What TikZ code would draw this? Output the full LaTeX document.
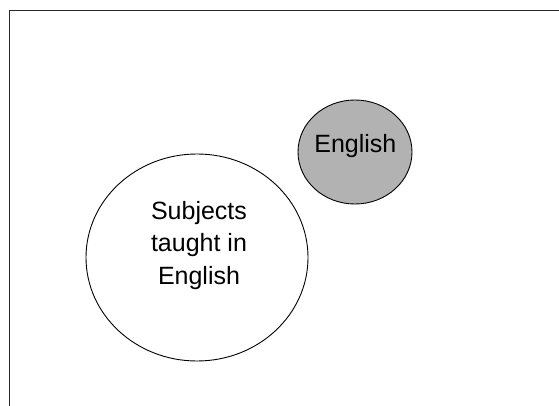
\documentclass[tikz,border=0pt]{standalone}
\usepackage{fontspec}
\setmainfont{Liberation Sans}
\usetikzlibrary{shapes.geometric}
\definecolor{fillgray}{RGB}{178,178,178}
\definecolor{framecol}{RGB}{40,40,40}
\tikzset{
  blob/.style={ellipse, draw=black, line width=0.9pt, inner sep=0pt},
  lbl/.style={font=\fontsize{25}{32.5}\selectfont, align=center, inner sep=0pt}
}
\begin{document}
\begin{tikzpicture}[x=1pt,y=-1pt]
\useasboundingbox[fill=white] (0,0) rectangle (559,406);
\coordinate (fb) at (9.5,406);
\coordinate (fc) at (9.5,10.5);
\coordinate (fr) at (559,10.5);
\draw[framecol, line width=1pt] (fb) -- (fc) -- (fr);
\node[blob, minimum width=222pt, minimum height=207pt] (subj) at (197,257.5) {};
\node[blob, fill=fillgray, minimum width=114pt, minimum height=104pt] (eng) at (355,152) {};
\node[lbl, anchor=base] (subjtext) at (199,284) {Subjects\\taught in\\English};
\node[lbl, anchor=base] (engtext) at (355.4,152.5) {English};
\end{tikzpicture}
\end{document}
